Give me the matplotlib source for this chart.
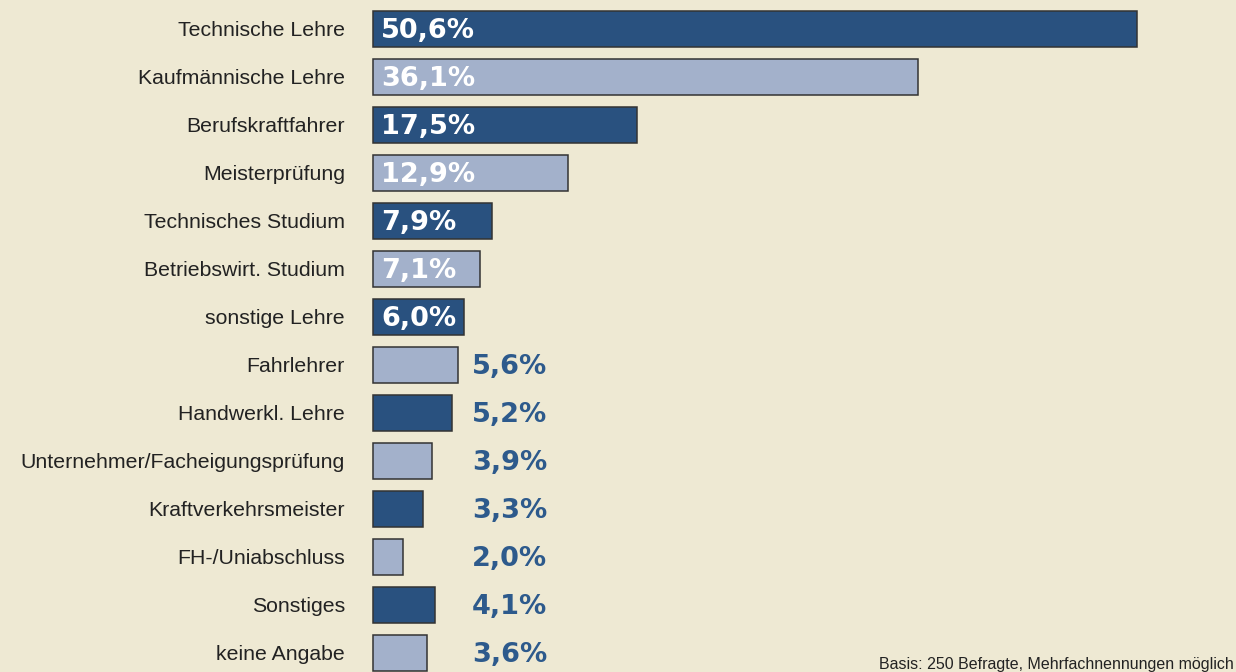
import matplotlib.pyplot as plt

# ----------------------------------------------------------
# DATA
# ----------------------------------------------------------
categories = [
    "Technische Lehre",
    "Kaufmännische Lehre",
    "Berufskraftfahrer",
    "Meisterprüfung",
    "Technisches Studium",
    "Betriebswirt. Studium",
    "sonstige Lehre",
    "Fahrlehrer",
    "Handwerkl. Lehre",
    "Unternehmer/Facheigungsprüfung",
    "Kraftverkehrsmeister",
    "FH-/Uniabschluss",
    "Sonstiges",
    "keine Angabe",
]
values = [50.6, 36.1, 17.5, 12.9, 7.9, 7.1, 6.0, 5.6, 5.2, 3.9, 3.3, 2.0, 4.1, 3.6]
footnote = "Basis: 250 Befragte, Mehrfachnennungen möglich"

# ----------------------------------------------------------
# STYLE
# ----------------------------------------------------------
BG = "#EEE9D3"
DARK = "#29517F"
LIGHT = "#A3B1CB"
VALUE_OUT = "#2D5A8C"

W, H = 1236, 672
X0 = 373          # pixel where bars start
PX_PER_PCT = 15.1
ROW0, ROW_H = 29, 48

fig = plt.figure(figsize=(W / 100, H / 100), dpi=100)
fig.patch.set_facecolor(BG)
ax = fig.add_axes([0, 0, 1, 1])
ax.set_facecolor(BG)
ax.set_xlim(-X0 / PX_PER_PCT, (W - X0) / PX_PER_PCT)
ax.set_ylim((H - ROW0) / ROW_H, -ROW0 / ROW_H)
ax.axis("off")

colors = [DARK if i % 2 == 0 else LIGHT for i in range(len(values))]
ax.barh(range(len(values)), values, height=0.77, color=colors,
        edgecolor="#333333", linewidth=1.1)

label_x = (345 - X0) / PX_PER_PCT
inside_pad = 8 / PX_PER_PCT
outside_x = (472 - X0) / PX_PER_PCT

for i, (cat, v) in enumerate(zip(categories, values)):
    ax.text(label_x, i + 0.04, cat, ha="right", va="center", fontsize=15.3,
            family="Liberation Sans", color="#222222")
    txt = f"{v:.1f}%".replace(".", ",")
    if v >= 6.0:
        ax.text(inside_pad, i + 0.05, txt, ha="left", va="center",
                fontsize=19.5, fontweight="bold", family="DejaVu Sans",
                color="white")
    else:
        ax.text(outside_x, i + 0.05, txt, ha="left", va="center",
                fontsize=19.5, fontweight="bold", family="DejaVu Sans",
                color=VALUE_OUT)

fig.text(1234 / W, 1 - 665 / H, footnote, ha="right", va="center",
         fontsize=11.5, family="Liberation Sans", color="#222222")

fig.savefig("out.png", dpi=100, facecolor=BG)
